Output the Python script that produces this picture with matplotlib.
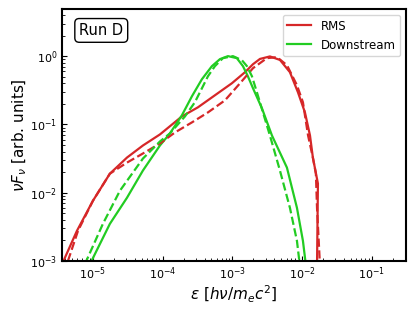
import numpy as np
import matplotlib
matplotlib.use("Agg")
import matplotlib.pyplot as plt

plt.rcParams.update({
    "font.family": "DejaVu Sans",
    "font.size": 8,
    "mathtext.fontset": "dejavusans",
})

# RMS spectrum (solid / dashed)
rms_eps = [3.72e-6, 5.89e-6, 1.0e-5, 1.75e-5, 3.08e-5, 5.21e-5, 9.14e-5, 1.89e-4,
           3.21e-4, 5.62e-4, 9.86e-4, 1.52e-3, 1.98e-3, 2.49e-3, 3.46e-3, 4.82e-3,
           6.70e-3, 8.73e-3, 1.10e-2, 1.30e-2, 1.43e-2, 1.69e-2, 1.64e-2]
rms_flux = [9.66e-4, 2.76e-3, 7.62e-3, 0.0190, 0.0327, 0.0491, 0.0713, 0.131,
            0.178, 0.267, 0.401, 0.582, 0.762, 0.91, 0.99, 0.88,
            0.582, 0.296, 0.150, 0.0689, 0.0327, 0.0136, 8.4e-4]

rms_eps_d = [4.38e-6, 6.10e-6, 1.0e-5, 1.75e-5, 3.08e-5, 5.21e-5, 9.14e-5, 1.50e-4,
             2.63e-4, 4.47e-4, 7.83e-4, 1.29e-3, 1.98e-3, 3.13e-3, 4.37e-3, 6.07e-3,
             8.45e-3, 1.03e-2, 1.22e-2, 1.43e-2, 1.58e-2, 1.64e-2, 1.81e-2]
rms_flux_d = [1.0e-3, 2.76e-3, 7.62e-3, 0.0190, 0.0276, 0.0375, 0.0526, 0.0762,
              0.107, 0.150, 0.225, 0.401, 0.667, 0.935, 0.966, 0.738,
              0.375, 0.211, 0.0689, 0.0327, 0.0190, 6.01e-3, 8.4e-4]

# Downstream spectrum (solid / dashed)
down_eps = [9.06e-6, 1.75e-5, 3.08e-5, 5.21e-5, 9.14e-5, 1.27e-4, 1.89e-4, 2.63e-4,
            3.66e-4, 5.09e-4, 6.64e-4, 8.65e-4, 1.16e-3, 1.42e-3, 1.67e-3, 1.98e-3,
            2.66e-3, 3.70e-3, 6.07e-3, 8.45e-3, 1.03e-2, 1.14e-2]
down_flux = [9.0e-4, 3.50e-3, 8.44e-3, 0.0211, 0.0491, 0.0737, 0.136, 0.258,
             0.459, 0.713, 0.904, 1.0, 0.935, 0.713, 0.508, 0.338,
             0.172, 0.0689, 0.0233, 6.01e-3, 1.97e-3, 8.4e-4]

down_eps_d = [7.67e-6, 1.39e-5, 2.44e-5, 5.21e-5, 9.14e-5, 1.27e-4, 2.09e-4, 2.90e-4,
              3.66e-4, 4.47e-4, 5.62e-4, 7.33e-4, 1.02e-3, 1.37e-3, 1.62e-3, 1.91e-3,
              2.25e-3, 2.75e-3, 3.46e-3, 4.82e-3, 6.70e-3, 8.45e-3, 9.33e-3]
down_flux_d = [9.0e-4, 3.50e-3, 0.0107, 0.0316, 0.0562, 0.0737, 0.131, 0.211,
               0.338, 0.508, 0.713, 0.935, 1.0, 0.873, 0.713, 0.508,
               0.296, 0.150, 0.0689, 0.0211, 6.01e-3, 1.97e-3, 8.4e-4]

red = "#d62728"
green = "#22cc22"

fig = plt.figure(figsize=(4.15, 3.12), dpi=100)
ax = fig.add_axes([62 / 415, 51 / 312, 344 / 415, 252 / 312])

ax.plot(rms_eps, rms_flux, color=red, lw=1.6, label="RMS")
ax.plot(down_eps, down_flux, color=green, lw=1.6, label="Downstream")
ax.plot(rms_eps_d, rms_flux_d, color=red, lw=1.6, ls="--")
ax.plot(down_eps_d, down_flux_d, color=green, lw=1.6, ls="--")

ax.set_xscale("log")
ax.set_yscale("log")
ax.set_xlim(3.6e-6, 0.31)
ax.set_ylim(1e-3, 4.9)

ax.set_xlabel(r"$\varepsilon\ [h\nu/m_e c^2]$", fontsize=11, labelpad=1)
ax.set_ylabel(r"$\nu F_\nu$ [arb. units]", fontsize=11, labelpad=1)

ax.tick_params(which="both", direction="in")
for s in ax.spines.values():
    s.set_linewidth(1.5)

ax.text(0.05, 0.915, "Run D", transform=ax.transAxes, fontsize=10.5,
        va="center", ha="left",
        bbox=dict(boxstyle="round,pad=0.3", fc="white", ec="black"))

ax.legend(loc="upper right", fontsize=8.5, frameon=True)

fig.savefig("out.png", dpi=100)
